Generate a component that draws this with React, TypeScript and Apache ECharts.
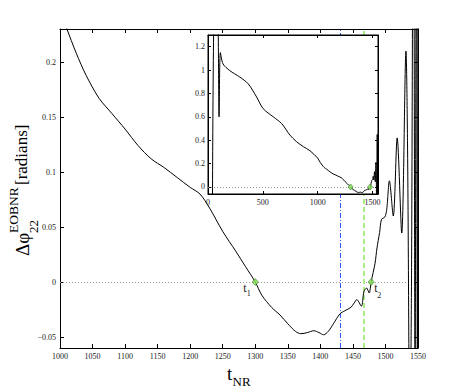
import React, { useEffect, useRef } from "react";
import * as echarts from "echarts";

// ---- data ----
const mainT = [1000, 1010, 1025, 1040, 1060, 1080, 1100, 1120, 1140, 1160, 1180, 1200, 1215, 1230, 1250, 1270, 1285, 1300, 1310, 1325, 1338, 1350, 1362, 1370, 1380, 1390, 1398, 1405, 1412, 1420, 1430, 1438, 1447, 1452, 1456, 1463, 1467, 1471, 1475, 1478, 1484, 1487, 1491, 1494, 1499, 1502, 1506, 1512, 1518, 1525, 1531.5, 1534, 1537.5, 1540, 1543, 1545.5, 1547.5, 1549, 1550];
const mainPhase = [0.247, 0.231, 0.208, 0.188, 0.167, 0.153, 0.139, 0.124, 0.112, 0.104, 0.095, 0.086, 0.080, 0.067, 0.046, 0.028, 0.014, 0.0, -0.012, -0.023, -0.030, -0.038, -0.045, -0.047, -0.046, -0.0443, -0.046, -0.048, -0.045, -0.038, -0.029, -0.026, -0.023, -0.019, -0.016, -0.022, -0.0085, -0.0055, -0.010, 0.0, 0.017, 0.031, 0.045, 0.057, 0.059, 0.066, 0.092, 0.060, 0.131, 0.0445, 0.21, 0.12, -0.15, 0.0, 0.45, -0.1, 0.42, -0.1, 0.3];

const insetEarlyT = [40, 60, 85, 101, 113, 137, 198, 290, 366, 443, 503, 595, 671, 747, 808, 870, 930];
const insetEarlyPhase = [-0.3, 1.6, 1.6, 0.6, 1.15, 1.053, 0.996, 0.94, 0.883, 0.77, 0.67, 0.6, 0.543, 0.444, 0.387, 0.345, 0.31];

const markerT = [1300, 1478];
const markerNames = ["1", "2"];
const blueLineT = 1431;
const greenLineT = 1466;

const mainYTicks = [-0.05, 0, 0.05, 0.1, 0.15, 0.2];
const insetXTicks = [0, 500, 1000, 1500];
const insetYTicks = [0, 0.2, 0.4, 0.6, 0.8, 1, 1.2];

const SERIF = '"Liberation Serif", "DejaVu Serif", serif';

function fmt(v: number) {
  return String(v).replace("-", "\u2212");
}

function axis(extra: any, showLabel: boolean, margin: number, z = 0) {
  return {
    type: "value",
    z,
    axisLine: { show: true, onZero: false, lineStyle: { color: "#000", width: 1 } },
    axisTick: { show: true, inside: true, length: 4, lineStyle: { color: "#000", width: 1 } },
    splitLine: { show: false },
    axisLabel: {
      show: showLabel,
      fontFamily: SERIF,
      fontSize: 8,
      color: "#222",
      margin,
      formatter: fmt,
    },
    ...extra,
  };
}

export default function App() {
  const ref = useRef<HTMLDivElement>(null);
  useEffect(() => {
    document.body.style.margin = "0";
    if (!ref.current) return;
    const chart = echarts.init(ref.current, null, { renderer: "svg" });
    const mainData = mainT.map((t, i) => [t, mainPhase[i]]);
    const insetData = insetEarlyT.map((t, i) => [t, insetEarlyPhase[i]]).concat(mainData);
    const markerData = markerT.map((t) => [t, 0]);

    const mainY = (pos: string, show: boolean) =>
      axis(
        {
          gridIndex: 0,
          position: pos,
          min: -0.06,
          max: 0.23,
          axisTick: { show: true, inside: true, length: 4, lineStyle: { color: "#000" }, customValues: mainYTicks },
        },
        show,
        4
      );
    const insetY = (pos: string, show: boolean) =>
      axis(
        {
          gridIndex: 1,
          position: pos,
          min: -0.06,
          max: 1.3,
          axisTick: { show: true, inside: true, length: 3, lineStyle: { color: "#000" }, customValues: insetYTicks },
        },
        show,
        3,
        11
      );
    const insetX = (pos: string, show: boolean) =>
      axis(
        {
          gridIndex: 1,
          position: pos,
          min: 0,
          max: 1550,
          axisTick: { show: true, inside: true, length: 3, lineStyle: { color: "#000" }, customValues: insetXTicks },
        },
        show,
        4,
        11
      );

    const yAxes: any[] = [mainY("left", true), mainY("right", false), insetY("left", true), insetY("right", false)];
    yAxes[0].axisLabel.customValues = mainYTicks;
    yAxes[2].axisLabel.customValues = insetYTicks;
    const xAxes: any[] = [
      axis({ gridIndex: 0, position: "bottom", min: 1000, max: 1550, interval: 50 }, true, 4),
      axis({ gridIndex: 0, position: "top", min: 1000, max: 1550, interval: 50 }, false, 4),
      insetX("bottom", true),
      insetX("top", false),
    ];
    xAxes[2].axisLabel.customValues = insetXTicks;

    const markerStyle = { color: "#86e35a", borderColor: "#3b7f22", borderWidth: 0.8 };

    chart.setOption({
      animation: false,
      grid: [
        { left: 60, right: 45, top: 29, bottom: 44, show: false },
        { left: 208, right: 85, top: 35, bottom: 198, show: true, backgroundColor: "#fff", borderColor: "#000", borderWidth: 1, z: 10 },
      ],
      xAxis: xAxes,
      yAxis: yAxes,
      series: [
        {
          type: "line",
          xAxisIndex: 0,
          yAxisIndex: 0,
          data: mainData,
          symbol: "none",
          smooth: 0.3,
          clip: true,
          lineStyle: { color: "#000", width: 1 },
          z: 2,
          markLine: {
            silent: true,
            symbol: "none",
            z: 1,
            label: { show: false },
            data: [
              { yAxis: 0, lineStyle: { color: "#999", type: [1, 2], width: 1 } },
              { xAxis: blueLineT, lineStyle: { color: "#2f55ff", type: [5, 2, 1, 2], width: 1 } },
              { xAxis: greenLineT, lineStyle: { color: "#a9ee85", type: [5, 3], width: 2 } },
            ],
          },
        },
        {
          type: "scatter",
          xAxisIndex: 0,
          yAxisIndex: 0,
          data: markerData,
          symbol: "diamond",
          symbolSize: [6, 7],
          itemStyle: markerStyle,
          z: 3,
        },
        {
          type: "line",
          xAxisIndex: 2,
          yAxisIndex: 2,
          data: insetData,
          symbol: "none",
          smooth: 0.3,
          clip: true,
          lineStyle: { color: "#000", width: 1 },
          z: 13,
          markLine: {
            silent: true,
            symbol: "none",
            z: 12,
            label: { show: false },
            data: [{ yAxis: 0, lineStyle: { color: "#999", type: [1, 2], width: 1 } }],
          },
        },
        {
          type: "scatter",
          xAxisIndex: 2,
          yAxisIndex: 2,
          data: markerData,
          symbol: "diamond",
          symbolSize: [5, 6],
          itemStyle: markerStyle,
          z: 14,
        },
      ],
    });

    const p = markerData.map((d) => chart.convertToPixel({ seriesIndex: 1 }, d) as number[]);
    const offsets = [
      { tx: -12, ty: 6, sx: -8.5, sy: 11 },
      { tx: 3, ty: 6, sx: 6, sy: 13 },
    ];
    const markerLabelEls: any[] = [];
    p.forEach((pt, i) => {
      const o = offsets[i];
      markerLabelEls.push({
        type: "text",
        x: pt[0] + o.tx,
        y: pt[1] + o.ty,
        style: { text: "t", font: `12px ${SERIF}`, fill: "#222", verticalAlign: "middle", align: "left" },
        z: 20,
      });
      markerLabelEls.push({
        type: "text",
        x: pt[0] + o.sx,
        y: pt[1] + o.sy,
        style: { text: markerNames[i], font: `8px ${SERIF}`, fill: "#222", verticalAlign: "middle", align: "left" },
        z: 20,
      });
    });

    chart.setOption({
      graphic: [
        {
          type: "group",
          x: 0,
          y: 256,
          rotation: Math.PI / 2,
          children: [
            { type: "text", x: 0, y: 22.5, style: { text: "\u0394\u03c6", font: `19px ${SERIF}`, fill: "#000", verticalAlign: "middle" } },
            { type: "text", x: 23, y: 33, style: { text: "22", font: `13px ${SERIF}`, fill: "#000", verticalAlign: "middle" } },
            { type: "text", x: 23, y: 13, style: { text: "EOBNR", font: `13.5px ${SERIF}`, fill: "#000", verticalAlign: "middle" } },
            { type: "text", x: 71, y: 21.6, style: { text: "[radians]", font: `17px ${SERIF}`, fill: "#000", verticalAlign: "middle" } },
          ],
        },
        { type: "text", x: 227, y: 373.6, style: { text: "t", font: `19px ${SERIF}`, fill: "#000", verticalAlign: "middle" } },
        { type: "text", x: 232.5, y: 381.6, style: { text: "NR", font: `13px ${SERIF}`, fill: "#000", verticalAlign: "middle" } },
        ...markerLabelEls,
      ],
    });

    return () => chart.dispose();
  }, []);
  return <div ref={ref} style={{ width: 463, height: 392 }} />;
}
